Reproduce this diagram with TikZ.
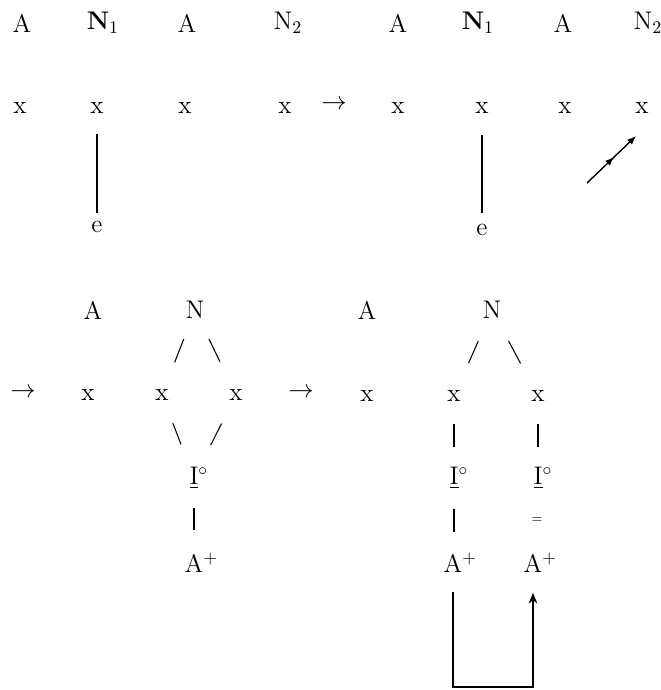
\documentclass[tikz,border=0pt]{standalone}
\usetikzlibrary{arrows.meta,decorations.markings}
\begin{document}
\begin{tikzpicture}[x=0.02cm,y=-0.02cm,font=\fontsize{14.5}{17}\selectfont,line width=.8pt,
  assoc/.style 2 args={shorten <=#1*0.02cm,shorten >=#2*0.02cm},
  slant/.style={line width=.6pt},
  midhead/.style={decoration={markings,mark=at position .55 with {\arrow{Latex[length=5pt,width=4pt]}}},postaction={decorate}}]
  \useasboundingbox (0,0) rectangle (660,690);
  % first stage
  \foreach \n/\x/\lab in {a1/22/A,n1/98/{\textbf{N}\rlap{\textsubscript{1}}},a2/187/A,n2/283/{N\rlap{\textsubscript{2}}}} {
    \node (\n) at (\x,23) {\lab};
  }
  \foreach \n/\x in {xa/20,xb/97,xc/185,xd/285} {
    \node (\n) at (\x,108) {x};
  }
  \node (e1) at (97,227) {e};
  \draw[assoc={26}{14}] (xb.center) -- (e1.center);
  \node (arr1) at (334,105) {$\rightarrow$};
  % second stage
  \foreach \n/\x/\lab in {b1/398/A,m1/473/{\textbf{N}\rlap{\textsubscript{1}}},b2/563/A,m2/643/{N\rlap{\textsubscript{2}}}} {
    \node (\n) at (\x,23) {\lab};
  }
  \foreach \n/\x in {ya/398,yb/482,yc/565,yd/642} {
    \node (\n) at (\x,108) {x};
  }
  \node (e2) at (482,230) {e};
  \draw[assoc={27}{17}] (yb.center) -- (e2.center);
  \coordinate (tail) at (587,183);
  \coordinate (head) at (636,136);
  \draw[midhead,-{Latex[length=5pt,width=4pt]}] (tail) -- (head);
  % third stage
  \node (arr2) at (23,393) {$\rightarrow$};
  \node (la) at (93,310) {A};
  \node (ln) at (195,310) {N};
  \node (lx1) at (88,395) {x};
  \node (lx2) at (162,395) {x};
  \node (lx3) at (236,395) {x};
  \node (li) at (194,478) {\underline{I}\rlap{$^{\circ}$}};
  \node (lap) at (194,563) {A\rlap{\textsuperscript{+}}};
  \draw[slant,assoc={31}{35}] (ln.center) -- (lx2.center);
  \draw[slant,assoc={32}{37}] (ln.center) -- (lx3.center);
  \draw[slant,assoc={30}{36}] (lx2.center) -- (li.center);
  \draw[slant,assoc={32}{37}] (lx3.center) -- (li.center);
  \draw[assoc={30}{33}] (li.center) -- (lap.center);
  \node (arr3) at (301,393) {$\rightarrow$};
  % fourth stage
  \node (ra) at (367,310) {A};
  \node (rn) at (492,310) {N};
  \node (rx1) at (367,396) {x};
  \node (rx2) at (454,396) {x};
  \node (rx3) at (538,396) {x};
  \node (ri1) at (454,478) {\underline{I}\rlap{$^{\circ}$}};
  \node (ri2) at (538,478) {\underline{I}\rlap{$^{\circ}$}};
  \node (rap1) at (453,563) {A\rlap{\textsuperscript{+}}};
  \node (rap2) at (533,563) {A\rlap{\textsuperscript{+}}};
  \node[font=\scriptsize] (cut) at (537,520) {=};
  \draw[slant,assoc={34}{36}] (rn.center) -- (rx2.center);
  \draw[slant,assoc={35}{37}] (rn.center) -- (rx3.center);
  \draw[assoc={28}{31}] (rx2.center) -- (ri1.center);
  \draw[assoc={28}{31}] (rx3.center) -- (ri2.center);
  \draw[assoc={31}{31}] (ri1.center) -- (ri1.center |- rap1.center);
  \draw[-{Stealth[length=6pt,width=5pt]},shorten <=29*0.02cm,shorten >=30*0.02cm]
    (rap1.center) -- ++(0,124) -| (rap2.center);
\end{tikzpicture}
\end{document}
